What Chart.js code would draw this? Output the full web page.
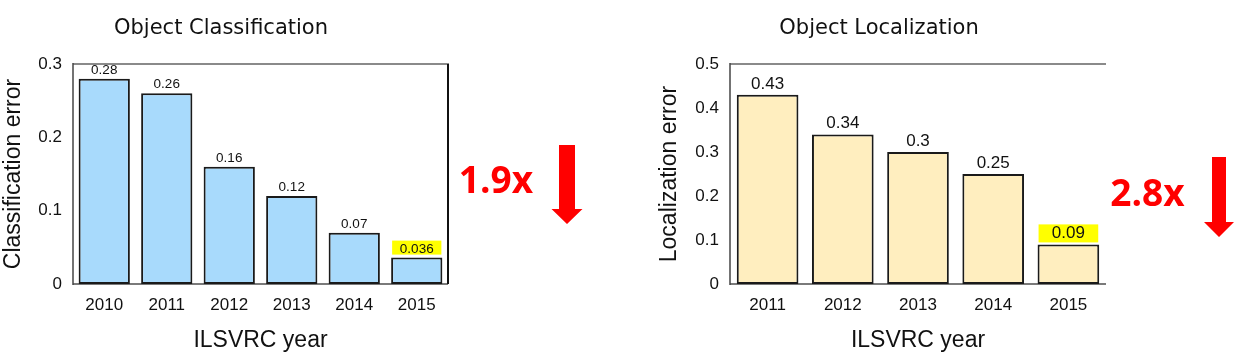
<!DOCTYPE html>
<html><head><meta charset="utf-8">
<script src="https://cdn.jsdelivr.net/npm/chart.js@4"></script>
<style>
html,body{margin:0;padding:0;background:#fff;}
#wrap{position:relative;width:1239px;height:359px;overflow:hidden;}
canvas{position:absolute;top:0;}
#c1{left:0;} #c2{left:620px;}
</style></head><body>
<div id="wrap">
<canvas id="c1" width="620" height="359"></canvas>
<canvas id="c2" width="619" height="359"></canvas>
</div>
<script>
// ---- data ----
const clsYears = ['2010', '2011', '2012', '2013', '2014', '2015'];
const clsError = [0.28, 0.26, 0.16, 0.12, 0.07, 0.036];
const clsLabels = ['0.28', '0.26', '0.16', '0.12', '0.07', '0.036'];
const clsYMax = 0.3;
const clsFactor = '1.9x';

const locYears = ['2011', '2012', '2013', '2014', '2015'];
const locError = [0.43, 0.34, 0.30, 0.25, 0.09];
const locLabels = ['0.43', '0.34', '0.3', '0.25', '0.09'];
const locYMax = 0.5;
const locFactor = '2.8x';

const yStep = 0.1;

// ---- plugins ----
const framePlugin = {
  id: 'frame',
  beforeDatasetsDraw(chart, args, opts) {
    const a = chart.chartArea, ctx = chart.ctx;
    ctx.save();
    ctx.lineCap = 'butt';
    ctx.strokeStyle = '#8a8a8a'; ctx.lineWidth = 2;
    ctx.beginPath(); ctx.moveTo(a.left, a.top); ctx.lineTo(a.right + (opts.right ? 1 : 0), a.top); ctx.stroke();
    ctx.strokeStyle = '#7a7a7a'; ctx.lineWidth = 2;
    ctx.beginPath(); ctx.moveTo(a.left, a.bottom); ctx.lineTo(a.right, a.bottom); ctx.stroke();
    ctx.strokeStyle = '#444'; ctx.lineWidth = 1.5;
    ctx.beginPath(); ctx.moveTo(a.left, a.top - 1); ctx.lineTo(a.left, a.bottom + 1); ctx.stroke();
    if (opts.right) {
      ctx.strokeStyle = '#111'; ctx.lineWidth = 2;
      ctx.beginPath(); ctx.moveTo(a.right, a.top); ctx.lineTo(a.right, a.bottom); ctx.stroke();
    }
    ctx.restore();
  }
};

const labelPlugin = {
  id: 'barLabels',
  afterDatasetsDraw(chart, args, opts) {
    const ctx = chart.ctx;
    const meta = chart.getDatasetMeta(0);
    ctx.save();
    ctx.font = opts.size + 'px "Liberation Sans", Arial, sans-serif';
    ctx.textAlign = 'center';
    ctx.textBaseline = 'alphabetic';
    meta.data.forEach((bar, i) => {
      const w = bar.width;
      if (i === opts.highlight) {
        ctx.fillStyle = '#ffff00';
        ctx.fillRect(bar.x - w / 2 + 1, bar.y - opts.hlGap - opts.hlH, w - 2, opts.hlH);
      }
      ctx.fillStyle = '#111';
      ctx.fillText(opts.labels[i], bar.x, bar.y - opts.gap);
    });
    ctx.restore();
  }
};

const titleAnnPlugin = {
  id: 'titleAnn',
  afterDraw(chart, args, opts) {
    const ctx = chart.ctx;
    ctx.save();
    ctx.fillStyle = '#111';
    ctx.font = '21px "DejaVu Sans", sans-serif';
    ctx.textAlign = 'center';
    ctx.textBaseline = 'middle';
    ctx.fillText(opts.title, opts.titleX, 29);
    ctx.fillStyle = '#ff0000';
    ctx.font = 'bold 37px "Open Sans", sans-serif';
    ctx.fillText(opts.factor, opts.factorX, opts.factorY);
    const A = opts.arrow;
    ctx.beginPath();
    ctx.moveTo(A.cx - A.sw / 2, A.top);
    ctx.lineTo(A.cx + A.sw / 2, A.top);
    ctx.lineTo(A.cx + A.sw / 2, A.headTop);
    ctx.lineTo(A.cx + A.hw / 2, A.headTop);
    ctx.lineTo(A.cx, A.tip);
    ctx.lineTo(A.cx - A.hw / 2, A.headTop);
    ctx.lineTo(A.cx - A.sw / 2, A.headTop);
    ctx.closePath();
    ctx.fill();
    ctx.restore();
  }
};

function fmt(v) { return String(Math.round(v * 10) / 10); }

function makeChart(id, years, values, color, yMax, yTitle, padL, yW, padR, plugOpts) {
  return new Chart(document.getElementById(id), {
    type: 'bar',
    data: {
      labels: years,
      datasets: [{
        data: values,
        backgroundColor: color,
        borderColor: '#1a1a1a',
        borderWidth: 2,
        borderSkipped: false,
        categoryPercentage: 1,
        barPercentage: 0.82
      }]
    },
    options: {
      responsive: false,
      animation: false,
      layout: { padding: { top: 64, bottom: 0, left: padL, right: padR } },
      plugins: {
        legend: { display: false },
        tooltip: { enabled: false },
        title: { display: false },
        frame: { right: plugOpts.rightBorder },
        barLabels: plugOpts.labels,
        titleAnn: plugOpts.ann
      },
      scales: {
        x: {
          grid: { display: false, drawTicks: false, tickLength: 0 },
          border: { display: false },
          ticks: { color: '#111', padding: 11, font: { size: 17, family: '"Liberation Sans", Arial, sans-serif' } },
          title: { display: true, text: 'ILSVRC year', color: '#111', padding: { top: 0, bottom: 5 },
                   font: { size: 23, family: '"Liberation Sans", Arial, sans-serif' } },
          afterFit(s) { s.height = 75; }
        },
        y: {
          min: 0, max: yMax,
          grid: { display: false, drawTicks: false, tickLength: 0 },
          border: { display: false },
          ticks: { stepSize: yStep, color: '#111', padding: 11, callback: fmt,
                   font: { size: 17, family: '"Liberation Sans", Arial, sans-serif' } },
          title: { display: true, text: yTitle, color: '#111', padding: { top: 0, bottom: 0 },
                   font: { size: 23, family: '"Liberation Sans", Arial, sans-serif' } },
          afterFit(s) { s.width = yW; }
        }
      }
    },
    plugins: [framePlugin, labelPlugin, titleAnnPlugin]
  });
}

makeChart('c1', clsYears, clsError, '#a8dafc', clsYMax, 'Classification error', 0, 73, 172, {
  rightBorder: true,
  labels: { labels: clsLabels, size: 13.5, gap: 5, highlight: 5, hlGap: 3, hlH: 14 },
  ann: { title: 'Object Classification', titleX: 221, factor: clsFactor, factorX: 496, factorY: 182,
         arrow: { cx: 567, sw: 16, hw: 31, top: 145, headTop: 209, tip: 224 } }
});

makeChart('c2', locYears, locError, '#ffeebf', locYMax, 'Localization error', 36, 74, 133, {
  rightBorder: false,
  labels: { labels: locLabels, size: 17, gap: 6, highlight: 4, hlGap: 2, hlH: 18 },
  ann: { title: 'Object Localization', titleX: 259, factor: locFactor, factorX: 527.5, factorY: 195,
         arrow: { cx: 599, sw: 14, hw: 30, top: 157, headTop: 222, tip: 237 } }
});
</script>
</body></html>
